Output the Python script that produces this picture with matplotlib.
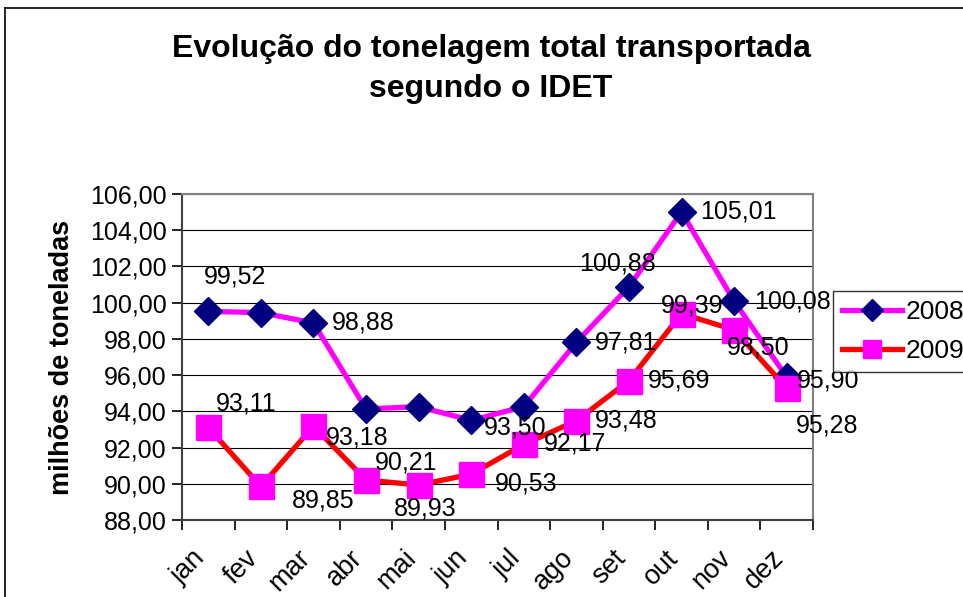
import matplotlib
matplotlib.use("Agg")
import matplotlib.pyplot as plt
from matplotlib.lines import Line2D
from matplotlib.transforms import ScaledTranslation

plt.rcParams['font.family'] = ['Liberation Sans', 'DejaVu Sans']

months = ['jan', 'fev', 'mar', 'abr', 'mai', 'jun', 'jul', 'ago', 'set', 'out', 'nov', 'dez']
v2008 = [99.52, 99.45, 98.88, 94.13, 94.26, 93.50, 94.26, 97.81, 100.88, 105.01, 100.08, 95.90]
v2009 = [93.11, 89.85, 93.18, 90.21, 89.93, 90.53, 92.17, 93.48, 95.69, 99.39, 98.50, 95.28]
labels2008 = ['99,52', None, '98,88', None, None, '93,50', None, '97,81', '100,88', '105,01', '100,08', '95,90']
labels2009 = ['93,11', '89,85', '93,18', '90,21', '89,93', '90,53', '92,17', '93,48', '95,69', '99,39', '98,50', '95,28']
yticks = [88, 90, 92, 94, 96, 98, 100, 102, 104, 106]

# label offsets in pixels (dx, dy) ; dy positive = down
off2008 = [(27, -35), None, (50, 0), None, None, (44, 7), None, (50, 0), (-11, -23), (57, 0), (58, 0), (41, 4)]
off2009 = [(38, -24), (62, 14), (44, 11), (40, -17), (7, 23), (55, 9), (51, -1), (50, 0), (50, 0), (11, -8), (24, 18), (40, 37)]

fig = plt.figure(figsize=(9.63, 5.97), dpi=100)
ax = fig.add_axes([182/963, 1-520/597, (813-182)/963, (520-194)/597])

x = list(range(len(months)))
ax.plot(x, v2008, color='#FF00FF', lw=3.8, marker='D', markersize=14,
        markerfacecolor='#000080', markeredgecolor='#000080', zorder=3, clip_on=False)
ax.plot(x, v2009, color='#FF0000', lw=3.8, marker='s', markersize=18,
        markerfacecolor='#FF00FF', markeredgecolor='#FF00FF', zorder=3, clip_on=False)

fs = 18
for i, (v, lab, o) in enumerate(zip(v2008, labels2008, off2008)):
    if lab is None:
        continue
    ax.annotate(lab, (i, v), xytext=(o[0]*0.72, -o[1]*0.72), textcoords='offset points',
                ha='center', va='center', fontsize=fs, zorder=5)
for i, (v, lab, o) in enumerate(zip(v2009, labels2009, off2009)):
    ax.annotate(lab, (i, v), xytext=(o[0]*0.72, -o[1]*0.72), textcoords='offset points',
                ha='center', va='center', fontsize=fs, zorder=5)

ax.set_xlim(-0.5, len(months) - 0.5)
ax.set_ylim(88, 106)
ax.set_yticks(yticks)
ax.set_yticklabels([f"{t:.2f}".replace('.', ',') for t in yticks], fontsize=fs)
ax.yaxis.grid(True, color='black', lw=0.8)
ax.set_axisbelow(True)

ax.set_xticks([i - 0.5 for i in range(len(months) + 1)])
ax.set_xticklabels([])
ax.tick_params(axis='x', which='major', length=7, width=1.2, direction='out')
ax.tick_params(axis='y', length=7, width=1.2, direction='out', pad=4)

# rotated month labels
lab_tr = ax.get_xaxis_transform() + ScaledTranslation(-16/100, -25/100, fig.dpi_scale_trans)
for i, m in enumerate(months):
    ax.text(i, 0, m, transform=lab_tr, rotation=45, ha='right', va='top',
            rotation_mode='anchor', fontsize=19.5, clip_on=False)

for s in ['top', 'right']:
    ax.spines[s].set_color('#808080')
    ax.spines[s].set_linewidth(1.5)
for s in ['left', 'bottom']:
    ax.spines[s].set_color('#404040')
    ax.spines[s].set_linewidth(1.5)

ax.set_ylabel('milhões de toneladas', fontsize=19.5, fontweight='bold', labelpad=11)

fig.text(491/963, 1-69/597, 'Evolução do tonelagem total transportada\nsegundo o IDET',
         ha='center', va='center', fontsize=23, fontweight='bold', linespacing=1.45)

handles = [
    Line2D([], [], color='#FF00FF', lw=3.8, marker='D', markersize=11,
           markerfacecolor='#000080', markeredgecolor='#000080'),
    Line2D([], [], color='#FF0000', lw=3.8, marker='s', markersize=13,
           markerfacecolor='#FF00FF', markeredgecolor='#FF00FF'),
]
leg = fig.legend(handles, ['2008', '2009'], loc='upper left',
                 bbox_to_anchor=(833/963, 1-291/597), fontsize=19,
                 frameon=True, fancybox=False, edgecolor='black',
                 handlelength=2.25, handletextpad=0.15, borderpad=0.35,
                 labelspacing=0.55, borderaxespad=0)
leg.get_frame().set_linewidth(1.0)

# outer chart border
fig.add_artist(Line2D([5/963, 1.0], [1-8/597, 1-8/597], color='black', lw=1.2, transform=fig.transFigure))
fig.add_artist(Line2D([5/963, 5/963], [0, 1-8/597], color='black', lw=1.2, transform=fig.transFigure))

fig.savefig('out.png', dpi=100)
